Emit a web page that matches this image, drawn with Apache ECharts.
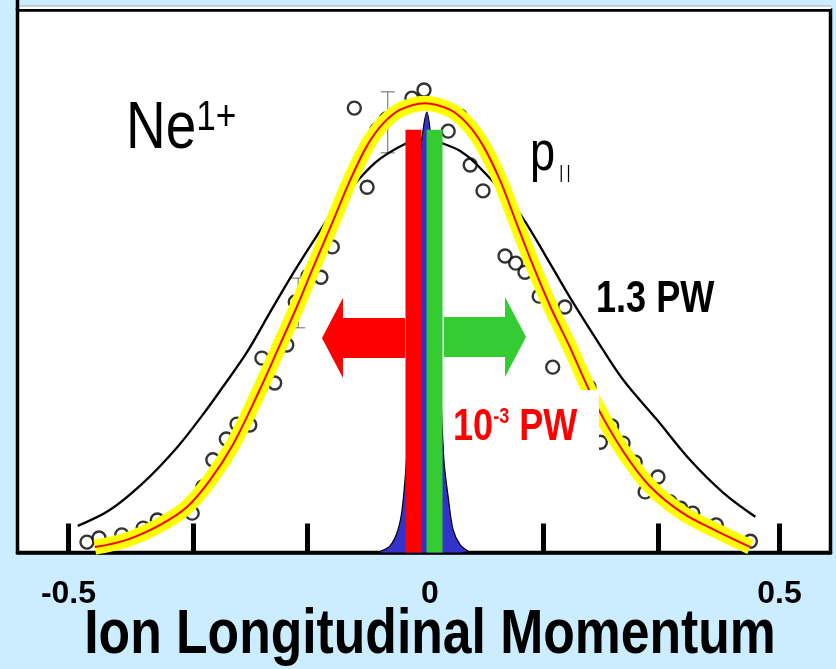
<!DOCTYPE html>
<html>
<head>
<meta charset="utf-8">
<script src="https://cdn.jsdelivr.net/npm/echarts@6/dist/echarts.min.js"></script>
<style>
  html, body { margin: 0; padding: 0; background: #ccecff; }
  #chart { width: 836px; height: 669px; }
</style>
</head>
<body>
<div id="chart"></div>
<script>
// Ne1+ longitudinal momentum distribution: measured points, Gaussian fits, narrow low-intensity peak

// measured ion counts [momentum, normalised yield]
const measured = [
  [-0.474, 0.023], [-0.457, 0.032], [-0.425, 0.039], [-0.395, 0.054], [-0.375, 0.072],
  [-0.326, 0.087], [-0.311, 0.145], [-0.297, 0.205], [-0.278, 0.251], [-0.263, 0.284],
  [-0.245, 0.282], [-0.228, 0.430], [-0.210, 0.375], [-0.193, 0.459], [-0.181, 0.554],
  [-0.163, 0.612], [-0.145, 0.609], [-0.129, 0.676], [-0.080, 0.808], [-0.098, 0.983],
  [-0.066, 0.935], [-0.053, 0.959], [-0.017, 1.005], [0.000, 1.023], [0.034, 0.932],
  [0.051, 0.965], [0.065, 0.857], [0.083, 0.800], [0.114, 0.656], [0.129, 0.640],
  [0.142, 0.620], [0.162, 0.567], [0.198, 0.543], [0.181, 0.410], [0.232, 0.366],
  [0.248, 0.244], [0.264, 0.280], [0.280, 0.242], [0.297, 0.200], [0.329, 0.167],
  [0.311, 0.134], [0.346, 0.112], [0.361, 0.098], [0.378, 0.087], [0.411, 0.061],
  [0.459, 0.025]
];

// error bars: momentum, lower, upper
const errMomentum = [-0.051, -0.177];
const errLow = [0.884, 0.497];
const errHigh = [1.019, 0.607];

// fitted curve through the measured points (yellow band, red centre line)
const fitCurve = [
  [-0.463, 0.012], [-0.418, 0.028], [-0.371, 0.061], [-0.333, 0.101], [-0.301, 0.160],
  [-0.269, 0.238], [-0.234, 0.350], [-0.203, 0.458], [-0.179, 0.543], [-0.156, 0.630],
  [-0.128, 0.733], [-0.104, 0.823], [-0.080, 0.900], [-0.058, 0.948], [-0.034, 0.979],
  [0.001, 0.994], [0.037, 0.979], [0.061, 0.948], [0.083, 0.900], [0.107, 0.823],
  [0.129, 0.733], [0.153, 0.636], [0.178, 0.543], [0.204, 0.458], [0.242, 0.327],
  [0.280, 0.224], [0.318, 0.146], [0.364, 0.087], [0.411, 0.048], [0.459, 0.012]
];

// broad distribution at 1.3 PW
const broadCurve = [
  [-0.487, 0.059], [-0.442, 0.094], [-0.395, 0.154], [-0.347, 0.233], [-0.311, 0.305],
  [-0.283, 0.366], [-0.249, 0.443], [-0.217, 0.530], [-0.184, 0.618], [-0.149, 0.705],
  [-0.120, 0.772], [-0.069, 0.862], [-0.024, 0.906], [0.000, 0.915], [0.024, 0.906],
  [0.051, 0.888], [0.075, 0.857], [0.131, 0.758], [0.177, 0.640], [0.205, 0.565],
  [0.243, 0.470], [0.280, 0.382], [0.328, 0.293], [0.374, 0.205], [0.421, 0.132],
  [0.466, 0.079]
];

// narrow distribution at 1e-3 PW
const narrowPeak = [
  [-0.061, 0.003], [-0.048, 0.014], [-0.037, 0.048], [-0.030, 0.105], [-0.023, 0.249],
  [-0.014, 0.558], [-0.006, 0.868], [0.004, 0.974], [0.013, 0.846], [0.020, 0.492],
  [0.028, 0.205], [0.034, 0.123], [0.041, 0.050], [0.051, 0.017], [0.062, 0.003]
];

// field-direction bars and arrows
const fieldBars = [[-0.0148, 0.935], [0.0148, 0.935]];
const fieldArrows = [[-0.0267, -0.1435, 0.4745], [0.0281, 0.1435, 0.4767]];
const fieldColors = ['#ff0000', '#33cc33'];

// axis ticks and labels
const tickValues = [-0.5, -0.324, -0.164, 0, 0.168, 0.33, 0.5];
const labelValues = [-0.5, 0, 0.5];

// condensed sans: regular face squeezed horizontally
const sansFont = '"Liberation Sans", Arial, sans-serif';
const squeeze = 0.82;

const chart = echarts.init(document.getElementById('chart'), null, { renderer: 'canvas' });

const errorData = errMomentum.map((x, i) => [x, errLow[i], errHigh[i]]);

const option = {
  backgroundColor: '#ccecff',
  animation: false,
  grid: {
    left: 17.5, right: 5.5, top: 10, bottom: 116.5,
    show: true, backgroundColor: '#ffffff', borderColor: '#000000', borderWidth: 3.5
  },
  xAxis: {
    type: 'value', min: -0.5717, max: 0.5717,
    axisLine: { show: true, onZero: false, lineStyle: { color: '#000', width: 3.5 } },
    axisTick: { show: true, inside: true, length: 29, customValues: tickValues,
      lineStyle: { color: '#000', width: 5 } },
    axisLabel: {
      customValues: labelValues, margin: 26, color: '#000', fontSize: 32, fontWeight: 'bold',
      fontFamily: sansFont,
      formatter: v => (Math.abs(v) < 1e-9 ? '{z|0}' : String(v)),
      rich: { z: { fontSize: 32, fontWeight: 'bold', fontFamily: sansFont, color: '#000', padding: [0, 0, 0, 12] } }
    },
    splitLine: { show: false }
  },
  yAxis: { type: 'value', min: 0, max: 1.2, show: false },
  series: [
    {
      type: 'custom', name: 'error', data: errorData, z: 2,
      encode: { x: 0, y: [1, 2] },
      renderItem(params, api) {
        const x = api.value(0);
        const lo = api.coord([x, api.value(1)]);
        const hi = api.coord([x, api.value(2)]);
        const cap = 7;
        const st = { stroke: '#666', lineWidth: 1 };
        return {
          type: 'group', children: [
            { type: 'line', shape: { x1: lo[0], y1: lo[1], x2: hi[0], y2: hi[1] }, style: st },
            { type: 'line', shape: { x1: lo[0] - cap, y1: lo[1], x2: lo[0] + cap, y2: lo[1] }, style: st },
            { type: 'line', shape: { x1: hi[0] - cap, y1: hi[1], x2: hi[0] + cap, y2: hi[1] }, style: st }
          ]
        };
      }
    },
    {
      type: 'scatter', name: 'measured', data: measured, z: 3,
      symbol: 'circle', symbolSize: 13,
      itemStyle: { color: '#ffffff', borderColor: '#000000', borderWidth: 2.4 }
    },
    {
      type: 'line', name: '1.3 PW', data: broadCurve, z: 4, smooth: 0.35,
      showSymbol: false, clip: false,
      lineStyle: { color: '#000000', width: 2.3 }
    },
    {
      type: 'line', name: 'fit band', data: fitCurve, z: 5, smooth: 0.35,
      showSymbol: false, clip: false,
      lineStyle: { color: '#ffff00', width: 15, cap: 'butt' }
    },
    {
      type: 'line', name: 'fit', data: fitCurve, z: 6, smooth: 0.35,
      showSymbol: false, clip: false,
      lineStyle: { color: '#ff0000', width: 2 }
    },
    {
      type: 'line', name: '1e-3 PW', data: narrowPeak, z: 7, smooth: 0.3,
      showSymbol: false,
      lineStyle: { color: '#000000', width: 1.2 },
      areaStyle: { color: '#3333cc', opacity: 1 }
    },
    {
      type: 'bar', name: 'field', z: 8, barWidth: 16,
      data: fieldBars.map((d, i) => ({ value: d, itemStyle: { color: fieldColors[i] } }))
    },
    {
      type: 'custom', name: 'arrows', z: 9,
      data: fieldArrows.map((d, i) => ({ value: d, itemStyle: { color: fieldColors[i] } })),
      encode: { x: [0, 1], y: 2 },
      renderItem(params, api) {
        const y = api.value(2);
        const base = api.coord([api.value(0), y]);
        const tip = api.coord([api.value(1), y]);
        const dir = Math.sign(tip[0] - base[0]);
        const headLen = 21, shaftHalf = 20, headHalf = 40;
        const neck = tip[0] - dir * headLen;
        const cy = base[1];
        return {
          type: 'polygon',
          shape: { points: [
            [base[0], cy - shaftHalf], [neck, cy - shaftHalf], [neck, cy - headHalf],
            [tip[0], cy], [neck, cy + headHalf], [neck, cy + shaftHalf], [base[0], cy + shaftHalf]
          ] },
          style: { fill: api.visual('color') }
        };
      }
    }
  ],
  graphic: [
    // strip above the frame
    { type: 'rect', z: 50, shape: { x: 17, y: 6, width: 814, height: 3 }, style: { fill: '#ffffff' } },
    { type: 'line', z: 50, shape: { x1: 17, y1: 6, x2: 831, y2: 6 }, style: { stroke: '#9ab', lineWidth: 1 } },
    { type: 'line', z: 50, shape: { x1: 17.5, y1: 0, x2: 17.5, y2: 10 }, style: { stroke: '#000', lineWidth: 3.5 } },
    {
      type: 'text', z: 100, x: 126, y: 129.8, scaleX: squeeze,
      style: {
        text: '{a|Ne}{b|1+}', align: 'left', verticalAlign: 'middle',
        rich: {
          a: { fontSize: 67, lineHeight: 67, fontFamily: sansFont, fill: '#000' },
          b: { fontSize: 43, lineHeight: 33, fontFamily: sansFont, fill: '#000', verticalAlign: 'top' }
        }
      }
    },
    {
      type: 'text', z: 100, x: 530, y: 154.4, scaleX: squeeze,
      style: {
        text: '{a|p}{b||}{c||}', align: 'left', verticalAlign: 'middle',
        rich: {
          a: { fontSize: 55, lineHeight: 55, fontFamily: sansFont, fill: '#000' },
          b: { fontSize: 19, lineHeight: 13, fontFamily: sansFont, fill: '#000', verticalAlign: 'bottom', padding: [0, 0, 0, 5] },
          c: { fontSize: 19, lineHeight: 13, fontFamily: sansFont, fill: '#000', verticalAlign: 'bottom', padding: [0, 0, 0, 4] }
        }
      }
    },
    {
      type: 'text', z: 100, x: 596, y: 299.8, scaleX: squeeze,
      style: {
        text: '1.3 PW', align: 'left', verticalAlign: 'middle',
        fontSize: 44, fontWeight: 'bold', fontFamily: sansFont, fill: '#000'
      }
    },
    { type: 'rect', z: 99, shape: { x: 444, y: 390, width: 155, height: 64 }, style: { fill: '#ffffff' } },
    {
      type: 'text', z: 100, x: 453, y: 428, scaleX: squeeze,
      style: {
        text: '{a|10}{b|-3}{a| PW}', align: 'left', verticalAlign: 'middle',
        rich: {
          a: { fontSize: 44, lineHeight: 44, fontWeight: 'bold', fontFamily: sansFont, fill: '#ff0000' },
          b: { fontSize: 22, lineHeight: 26, fontWeight: 'bold', fontFamily: sansFont, fill: '#ff0000', verticalAlign: 'top' }
        }
      }
    },
    {
      type: 'text', z: 100, x: 430, y: 636, scaleX: squeeze,
      style: {
        text: 'Ion Longitudinal Momentum', align: 'center', verticalAlign: 'middle',
        fontSize: 63, fontWeight: 'bold', fontFamily: sansFont, fill: '#000'
      }
    }
  ]
};

chart.setOption(option);
</script>
</body>
</html>
